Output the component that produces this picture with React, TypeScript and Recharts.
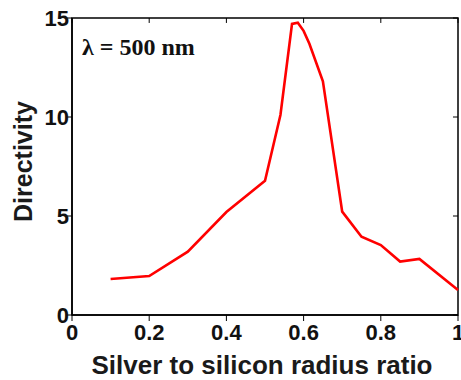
import { LineChart, Line, XAxis, YAxis, ReferenceArea, ReferenceLine } from "recharts";

// silver/silicon radius ratio vs directivity, lambda = 500 nm
const ratio = [0.1, 0.2, 0.3, 0.4, 0.5, 0.54, 0.57, 0.585, 0.6, 0.615, 0.65, 0.7, 0.75, 0.8, 0.85, 0.9, 1.0];
const directivity = [1.82, 1.97, 3.2, 5.2, 6.78, 10.1, 14.7, 14.76, 14.35, 13.7, 11.8, 5.22, 3.95, 3.53, 2.7, 2.83, 1.26];
const xTicks = [0, 0.2, 0.4, 0.6, 0.8, 1];
const yTicks = [0, 5, 10, 15];

const data = ratio.map((r, i) => ({ r, d: directivity[i] }));

const FONT = "'Liberation Sans', Arial, sans-serif";
const AXIS = "#000000";
const axisLine = { stroke: AXIS, strokeWidth: 1.5 };
const tickLine = { stroke: AXIS, strokeWidth: 1 };

const BottomTick = (props: any) => {
    const { x, y, payload } = props;
    return (
        <text x={x} y={y + 17} textAnchor="middle" fontFamily={FONT} fontWeight="bold" fontSize={22} fill="#111">
            {payload.value}
        </text>
    );
};

const LeftTick = (props: any) => {
    const { x, y, payload } = props;
    return (
        <text x={x + 5} y={y} dy="0.36em" textAnchor="end" fontFamily={FONT} fontWeight="bold" fontSize={22} fill="#111">
            {payload.value}
        </text>
    );
};

const xLabel = (p: any) => {
    const vb = p.viewBox;
    return (
        <text x={vb.x + vb.width / 2 - 3} y={vb.y + 59} textAnchor="middle" fontFamily={FONT} fontWeight="bold" fontSize={26} fill="#1a1a1a">
            Silver to silicon radius ratio
        </text>
    );
};

const yLabel = (p: any) => {
    const vb = p.viewBox;
    const cx = vb.x + 23;
    const cy = vb.y + vb.height / 2 - 5;
    return (
        <text
            x={cx}
            y={cy}
            transform={`rotate(-90, ${cx}, ${cy})`}
            textAnchor="middle"
            dominantBaseline="central"
            fontFamily={FONT}
            fontWeight="bold"
            fontSize={25}
            fill="#1a1a1a"
        >
            Directivity
        </text>
    );
};

export default function App() {
    return (
        <div style={{ position: "absolute", left: 0, top: 0, width: 461, height: 380, background: "#fff" }}>
            <LineChart width={461} height={380} data={data} margin={{ top: 18, right: 3, left: 0, bottom: 0 }}>
                <XAxis
                    dataKey="r"
                    type="number"
                    domain={[0, 1]}
                    ticks={xTicks}
                    height={65}
                    tickSize={6}
                    tickMargin={2}
                    tickLine={tickLine}
                    axisLine={axisLine}
                    tick={<BottomTick />}
                    interval={0}
                    label={{ content: xLabel }}
                />
                <YAxis
                    type="number"
                    domain={[0, 15]}
                    ticks={yTicks}
                    width={72}
                    tickSize={6}
                    tickMargin={2}
                    tickLine={tickLine}
                    axisLine={axisLine}
                    tick={<LeftTick />}
                    interval={0}
                    label={{ content: yLabel }}
                />
                <ReferenceArea x1={0} x2={1} y1={0} y2={15} fill="none" stroke={AXIS} strokeWidth={1.5} />
                {xTicks.map((t) => (
                    <ReferenceLine key={`tx${t}`} segment={[{ x: t, y: 15 }, { x: t, y: 14.75 }]} stroke={AXIS} strokeWidth={1} />
                ))}
                {yTicks.map((t) => (
                    <ReferenceLine key={`ty${t}`} segment={[{ x: 1, y: t }, { x: 0.987, y: t }]} stroke={AXIS} strokeWidth={1} />
                ))}
                <Line
                    dataKey="d"
                    type="linear"
                    stroke="#ff0000"
                    strokeWidth={2.6}
                    dot={false}
                    isAnimationActive={false}
                />
            </LineChart>
            <div
                style={{
                    position: "absolute",
                    left: 82,
                    top: 35,
                    fontFamily: "'Liberation Serif', 'Times New Roman', serif",
                    fontWeight: "bold",
                    fontSize: 24,
                    lineHeight: 1,
                    color: "#111",
                    whiteSpace: "nowrap",
                }}
            >
                λ = 500 nm
            </div>
        </div>
    );
}
